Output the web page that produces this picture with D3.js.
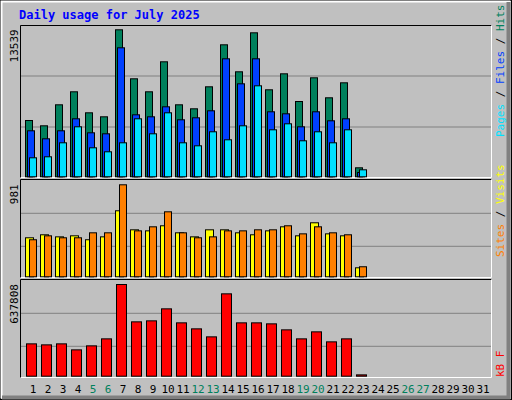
<!DOCTYPE html>
<html><head><meta charset="utf-8">
<script src="https://cdn.jsdelivr.net/npm/d3@7"></script>
<style>body{margin:0;background:#fff}</style>
</head><body><div id="vis"></div>
<script>
const days = d3.range(1, 32);
const weekends = [5, 6, 12, 13, 19, 20, 26, 27];
const hits = [5185,4697,6631,7829,5894,5526,13539,9026,7829,10592,6631,6263,8289,12157,9671,13262,8013,9486,6935,9118,7276,8657,829];
const files = [4237,3500,4237,5342,4052,3960,11881,5710,5526,6447,5250,5434,6079,10868,8565,10868,5987,5802,4605,5987,5158,5342,396];
const pages = [1750,1842,3131,4605,2671,2303,3131,5342,3960,5894,3131,2855,4145,3408,4697,8381,4329,4881,3316,4145,3131,4329,645];
const visits = [416,448,426,437,395,426,704,501,490,544,469,426,501,501,469,448,490,533,437,576,458,437,96];
const sites = [395,437,416,416,469,469,981,490,533,693,469,416,426,490,490,501,501,544,458,533,469,448,107];
const kbytes = [224972,218014,224972,183225,211056,259762,637808,378046,385004,468499,371088,329341,273677,572867,371088,371088,364130,322383,259762,308467,238888,259762,9277];

const mono = '"DejaVu Sans Mono", monospace';
const svg = d3.select("#vis").append("svg").attr("width", 512).attr("height", 400);

// background with bevel
svg.append("rect").attr("width", 512).attr("height", 400).attr("fill", "#c0c0c0");
svg.append("rect").attr("x", 0.5).attr("y", 0.5).attr("width", 511).attr("height", 399).attr("fill", "none").attr("stroke", "#000");
svg.append("path").attr("d", "M1.5,398.5V1.5H510.5").attr("fill", "none").attr("stroke", "#fff").attr("stroke-width", 2);
svg.append("path").attr("d", "M2,397.5H508.5V2").attr("fill", "none").attr("stroke", "#808080").attr("stroke-width", 4);

svg.append("text").attr("x", 19).attr("y", 19).attr("fill", "#0000ff")
  .style("font-family", mono).style("font-weight", "bold").style("font-size", "12px")
  .text("Daily usage for July 2025");

const x = d3.scaleBand().domain(days).range([25, 490]).paddingInner(0).paddingOuter(0);

const panels = [
  {y0: 25, y1: 178, base: 176.3, max: 13539, top: 29.3, grid: [76, 127], label: "13539"},
  {y0: 179, y1: 278, base: 276.3, max: 981, top: 184.3, grid: [213.3, 246.3], label: "981"},
  {y0: 279, y1: 378, base: 375.7, max: 637808, top: 284, grid: [313.3, 346.3], label: "637808"}
];

panels.forEach(p => {
  svg.append("path").attr("d", `M20.5,${p.y1}V${p.y0 + 0.5}H491.5`).attr("fill", "none").attr("stroke", "#000");
  svg.append("path").attr("d", `M20.5,${p.y1 - 0.5}H491.5V${p.y0 + 0.5}`).attr("fill", "none").attr("stroke", "#fff");
  p.grid.forEach(g => svg.append("line").attr("x1", 21).attr("x2", 491).attr("y1", g).attr("y2", g)
    .attr("stroke", "#808080").attr("stroke-width", 1));
  p.y = d3.scaleLinear().domain([0, p.max]).range([p.base, p.top]);
  svg.append("text").attr("transform", `translate(18,${p.top}) rotate(-90)`).attr("text-anchor", "end")
    .style("font-family", mono).style("font-size", "11px").attr("fill", "#000").text(p.label);
});

function bars(data, p, dx, w, color) {
  svg.append("g").selectAll("rect").data(data).join("rect")
    .attr("x", (d, i) => x(i + 1) + dx + 0.5)
    .attr("y", d => p.y(d) + 0.5)
    .attr("width", w)
    .attr("height", d => Math.max(0, p.base - p.y(d)))
    .attr("fill", color).attr("stroke", "#000").attr("stroke-width", 1);
}
bars(hits, panels[0], 0, 7, "#00805c");
bars(files, panels[0], 2, 7, "#0040ff");
bars(pages, panels[0], 4, 7, "#00e0ff");
bars(visits, panels[1], 0, 8, "#ffff00");
bars(sites, panels[1], 4, 7, "#ff8000");
bars(kbytes, panels[2], 1, 10, "#ff0000");

// x labels
svg.append("g").selectAll("text").data(days).join("text")
  .attr("x", d => x(d) + 8).attr("y", 393).attr("text-anchor", "middle")
  .style("font-family", mono).style("font-size", "11px")
  .attr("fill", d => weekends.includes(d) ? "#00805c" : "#000").text(d => d);

// right legends
function legend(yEnd, parts) {
  const t = svg.append("text").attr("transform", `translate(504,${yEnd}) rotate(-90)`)
    .style("font-family", mono).style("font-size", "11px");
  parts.forEach(pt => t.append("tspan").attr("fill", pt[1]).text(pt[0]));
}
legend(137, [["Pages", "#00e0ff"], [" / ", "#000"], ["Files", "#0040ff"], [" / ", "#000"], ["Hits", "#00805c"]]);
legend(257, [["Sites", "#ff8000"], [" / ", "#000"], ["Visits", "#ffff00"]]);
legend(377, [["kB F", "#ff0000"]]);
</script></body></html>
